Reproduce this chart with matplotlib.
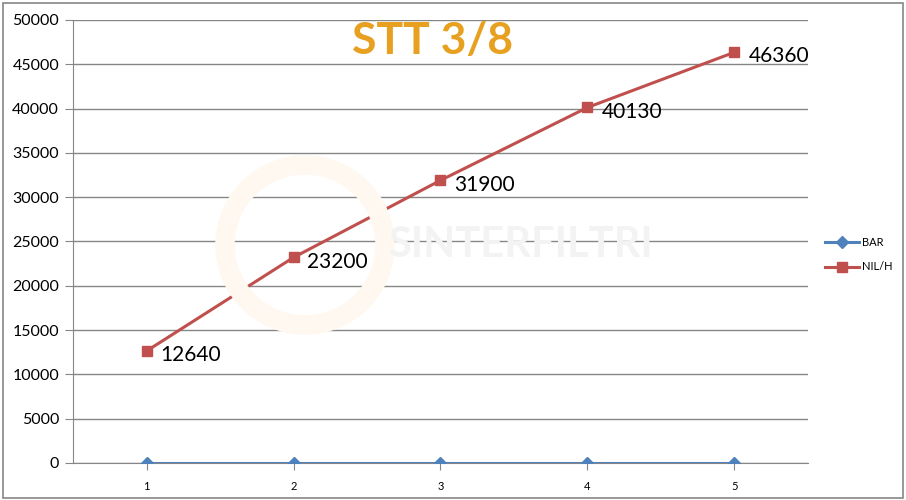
from matplotlib import pyplot as plt
from matplotlib.patches import Rectangle, Circle
import numpy as np

plt.rcParams['font.family'] = ['Lato', 'DejaVu Sans']

categories = [1, 2, 3, 4, 5]
bar = [0, 0, 0, 0, 0]
nil_h = [12640, 23200, 31900, 40130, 46360]
yticks = np.arange(0, 50001, 5000)

fig = plt.figure(figsize=(9.06, 5.0), dpi=100)
fig.patches.append(Rectangle((0.003, 0.005), 0.994, 0.99, transform=fig.transFigure,
                             fill=False, edgecolor='#868686', linewidth=1.2))
ax = fig.add_axes([0.0806, 0.074, 0.8112, 0.886])

# faint watermark
fig.patches.append(Circle((3.05, 2.55), 0.8, transform=fig.dpi_scale_trans,
                          fill=False, edgecolor='#FEF8F0', linewidth=14, zorder=0))
fig.text(0.575, 0.51, 'SINTERFILTRI', fontsize=30, fontweight='bold',
         color='#F3F3F3', ha='center', va='center', zorder=0)

ax.set_facecolor('none')
ax.plot(categories, bar, color='#4F81BD', marker='D', markersize=6,
        linewidth=2.2, label='BAR', zorder=3)
ax.plot(categories, nil_h, color='#C0504D', marker='s', markersize=7,
        linewidth=2.2, label='NIL/H', zorder=3)

for x, y in zip(categories, nil_h):
    ax.annotate(str(y), (x, y), xytext=(10, -3), textcoords='offset points',
                ha='left', va='center', fontsize=15, color='black')

ax.set_xlim(0.5, 5.5)
ax.set_ylim(0, 50000)
ax.set_xticks(categories)
ax.set_yticks(yticks)
ax.set_yticklabels([str(v) for v in yticks], fontsize=11.5)
ax.tick_params(axis='x', labelsize=8, length=5, color='#868686', pad=8)
ax.tick_params(axis='y', length=6, color='#868686', pad=4)
ax.grid(axis='y', color='#868686', linewidth=1)
ax.set_axisbelow(True)
for s in ['top', 'right']:
    ax.spines[s].set_visible(False)
for s in ['left', 'bottom']:
    ax.spines[s].set_color('#868686')

fig.text(0.477, 0.918, 'STT 3/8', fontsize=32, fontweight='bold',
         color='#E8A020', ha='center', va='center')

ax.legend(loc='center left', bbox_to_anchor=(1.01, 0.47), frameon=False,
          fontsize=8, handlelength=3, labelspacing=1.2, handletextpad=0.3)

fig.savefig('out.png', dpi=100)
